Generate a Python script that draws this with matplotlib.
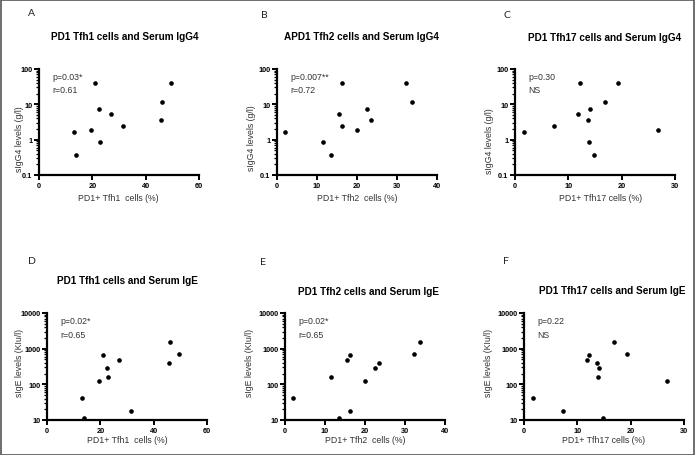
import matplotlib
matplotlib.use("Agg")
import matplotlib.pyplot as plt
from matplotlib.patches import Rectangle
from matplotlib.ticker import LogLocator, NullFormatter
import numpy as np

plt.rcParams['font.family'] = ['Liberation Sans', 'DejaVu Sans']

# ---- data (one entry per patient) ----
tfh1 = [21.0, 49.5, 46.2, 22.4, 27.1, 31.5, 45.6, 19.5, 13.3, 22.7, 13.7]
tfh2 = [16.3, 32.2, 33.7, 22.5, 15.4, 16.3, 23.4, 19.9, 2.1, 11.5, 13.5]
tfh17 = [12.1, 19.4, 16.9, 14.1, 11.8, 7.4, 13.6, 26.8, 1.6, 13.9, 14.9]
igg4 = [40, 40, 11.9, 7.3, 5.2, 2.5, 3.7, 1.88, 1.65, 0.88, 0.37]
ige = [660, 715, 1520, 278, 475, 17.6, 400, 128, 42.5, 158, 11.6]

panel_letters = ["A", "B", "C", "D", "E", "F"]
titles = ["PD1 Tfh1 cells and Serum IgG4", "APD1 Tfh2 cells and Serum IgG4",
          "PD1 Tfh17 cells and Serum IgG4", "PD1 Tfh1 cells and Serum IgE",
          "PD1 Tfh2 cells and Serum IgE", "PD1 Tfh17 cells and Serum IgE"]
xlabels = ["PD1+ Tfh1  cells (%)", "PD1+ Tfh2  cells (%)", "PD1+ Tfh17 cells (%)"] * 2
ylabels = ["sIgG4 levels (g/l)"] * 3 + ["sIgE levels (KIu/l)"] * 3
stats = [("p=0.03*", "r=0.61"), ("p=0.007**", "r=0.72"), ("p=0.30", "NS"),
         ("p=0.02*", "r=0.65"), ("p=0.02*", "r=0.65"), ("p=0.22", "NS")]
xmaxes = [60, 40, 30, 60, 40, 30]
xticks_list = [[0, 20, 40, 60], [0, 10, 20, 30, 40], [0, 10, 20, 30]] * 2
ylims = [(0.1, 100)] * 3 + [(10, 10000)] * 3
yticks_list = [[0.1, 1, 10, 100]] * 3 + [[10, 100, 1000, 10000]] * 3
ytick_labels = [["0.1", "1", "10", "100"]] * 3 + [["10", "100", "1000", "10000"]] * 3
xs = [tfh1, tfh2, tfh17, tfh1, tfh2, tfh17]
ys = [igg4, igg4, igg4, ige, ige, ige]

W, H = 697, 456
fig = plt.figure(figsize=(W / 100, H / 100), dpi=100)

# axes boxes in pixels: left, right, top, bottom
boxes = [(39, 199, 70, 176), (277, 437, 70, 176), (515, 675, 70, 176),
         (47, 207, 314, 421), (285, 445, 314, 421), (524, 684, 314, 421)]
title_pos = [(125, 37), (361, 37), (605, 38), (127, 281), (369, 292), (612, 291)]
letter_pos = [(28, 13), (261, 15), (503, 15), (28, 262), (260, 263), (503, 262)]
xlabel_pos = [(118, 199), (357, 199), (601, 199), (127, 441), (365, 441), (604, 441)]
ylabel_pos = [(20, 139), (251, 138), (490, 141), (19, 363), (249, 363), (488, 363)]

for i in range(6):
    l, r, t, b = boxes[i]
    ax = fig.add_axes([l / W, 1 - b / H, (r - l) / W, (b - t) / H])
    ax.scatter(xs[i], ys[i], s=11, color="black", zorder=3, clip_on=False, linewidths=0)
    ax.set_yscale("log")
    ax.set_xlim(0, xmaxes[i])
    ax.set_ylim(*ylims[i])
    ax.set_xticks(xticks_list[i])
    ax.set_yticks(yticks_list[i])
    ax.set_yticklabels(ytick_labels[i])
    ax.yaxis.set_minor_locator(LogLocator(base=10, subs=np.arange(2, 10)))
    ax.yaxis.set_minor_formatter(NullFormatter())
    for s in ["top", "right"]:
        ax.spines[s].set_visible(False)
    for s in ["left", "bottom"]:
        ax.spines[s].set_linewidth(1.6)
        ax.spines[s].set_color("black")
    ax.tick_params(axis="both", which="major", length=3.5, width=1.4, labelsize=5.3, pad=1.2)
    ax.tick_params(axis="y", which="minor", length=2, width=0.9)
    for lab in ax.get_xticklabels() + ax.get_yticklabels():
        lab.set_fontweight("bold")
    ax.text(0.085, 0.97, stats[i][0], transform=ax.transAxes, fontsize=6.3, color="#333333",
            va="top", ha="left")
    ax.text(0.085, 0.845, stats[i][1], transform=ax.transAxes, fontsize=6.3, color="#333333",
            va="top", ha="left")
    ax.patch.set_alpha(0)

    tx, ty = title_pos[i]
    fig.text(tx / W, 1 - ty / H, titles[i], fontsize=7.2, fontweight="bold",
             ha="center", va="center")
    lx, ly = letter_pos[i]
    fig.text(lx / W, 1 - ly / H, panel_letters[i], fontsize=7.5, ha="left", va="center",
             color="#222222", family=["Lato", "DejaVu Sans"])
    xx, xy = xlabel_pos[i]
    fig.text(xx / W, 1 - xy / H, xlabels[i], fontsize=6.3, ha="center", va="center",
             color="#333333")
    yx, yy = ylabel_pos[i]
    fig.text(yx / W, 1 - yy / H, ylabels[i], fontsize=6.3, ha="center", va="center",
             rotation=90, color="#333333")

fig.patches.append(Rectangle((1 / W, 0.5 / H), (694 - 1) / W, (455 - 0.5) / H,
                             transform=fig.transFigure, fill=False,
                             edgecolor="#555555", linewidth=1.2))

fig.savefig("out.png", dpi=100)
